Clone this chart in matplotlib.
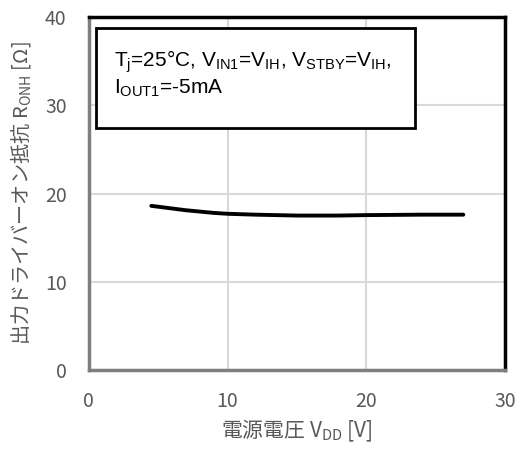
import numpy as np
import matplotlib
matplotlib.use("Agg")
import matplotlib.pyplot as plt
from matplotlib.patches import Rectangle

plt.rcParams['font.family'] = ['Noto Sans CJK JP', 'DejaVu Sans']
plt.rcParams['mathtext.fontset'] = 'custom'
plt.rcParams['mathtext.rm'] = 'Noto Sans CJK JP'

# data
vdd = [4.5, 5, 6, 7, 8, 9, 10, 12, 15, 18, 20, 24, 27]
ronh = [18.6, 18.5, 18.3, 18.1, 17.95, 17.8, 17.7, 17.6, 17.5, 17.5, 17.55, 17.6, 17.6]
xticks = [0, 10, 20, 30]
yticks = [0, 10, 20, 30, 40]

fig = plt.figure(figsize=(5.2, 4.5), dpi=100)
ax = fig.add_axes([0.171, 0.178, 0.8, 0.784])

ax.plot(vdd, ronh, color='black', lw=2.8, solid_capstyle='round', zorder=3)

ax.set_xlim(0, 30)
ax.set_ylim(0, 40)
ax.set_xticks(xticks)
ax.set_yticks(yticks)
ax.tick_params(length=0, labelsize=14, labelcolor='#595959')
ax.tick_params(axis='x', pad=15)
ax.tick_params(axis='y', pad=16)
ax.grid(True, color='#d9d9d9', lw=1.5)
ax.set_axisbelow(True)

for s in ['top', 'right']:
    ax.spines[s].set_color('black')
    ax.spines[s].set_linewidth(2.5)
for s in ['left', 'bottom']:
    ax.spines[s].set_color('#7f7f7f')
    ax.spines[s].set_linewidth(2.5)

ax.set_xlabel('電源電圧 V$_\\mathregular{DD}$ [V]', fontsize=15, color='#595959', labelpad=4)
ax.set_ylabel('出力ドライバーオン抵抗 R$_\\mathregular{ONH}$ [Ω]', fontsize=14.5, color='#595959',
              va='center')
ax.yaxis.set_label_coords(-0.165, 0.5)

# condition box
ax.add_patch(Rectangle((0.017, 0.686), 0.767, 0.283, transform=ax.transAxes,
                       fill=True, facecolor='white', edgecolor='black', lw=2, zorder=4))
ax.text(0.06, 0.84,
        '$\\mathregular{T_j}$=25°C, $\\mathregular{V_{IN1}}$=$\\mathregular{V_{IH}}$, '
        '$\\mathregular{V_{STBY}}$=$\\mathregular{V_{IH}}$,\n$\\mathregular{I_{OUT1}}$=-5mA',
        transform=ax.transAxes, fontsize=15, family='Liberation Sans',
        math_fontfamily='custom', va='center', ha='left', linespacing=1.2, zorder=5)

fig.savefig('out.png', dpi=100)
